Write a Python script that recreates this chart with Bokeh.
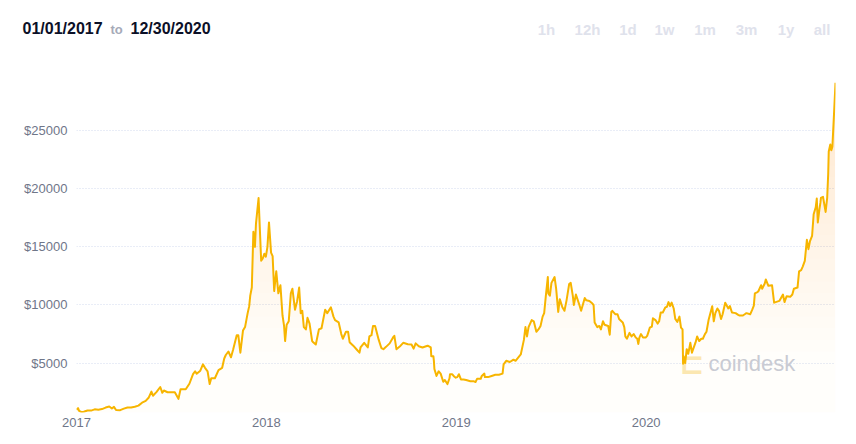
import numpy as np
import pandas as pd
from bokeh.plotting import figure
from bokeh.layouts import column
from bokeh.models import Range1d, FixedTicker, DatetimeTickFormatter, PrintfTickFormatter, Label
from bokeh.embed import file_html
from bokeh.resources import INLINE

# ---------------- data ----------------
dates_2017 = ["2017-01-01", "2017-01-04", "2017-01-06", "2017-01-11", "2017-01-15", "2017-01-22", "2017-01-29",
              "2017-02-05", "2017-02-12", "2017-02-19", "2017-02-26", "2017-03-05", "2017-03-10", "2017-03-14",
              "2017-03-18", "2017-03-26", "2017-04-02", "2017-04-09", "2017-04-16", "2017-04-23", "2017-04-30",
              "2017-05-07", "2017-05-14", "2017-05-20", "2017-05-25", "2017-05-28", "2017-06-04", "2017-06-11",
              "2017-06-15", "2017-06-18", "2017-06-25", "2017-07-02", "2017-07-09", "2017-07-16", "2017-07-20",
              "2017-07-30", "2017-08-06", "2017-08-13", "2017-08-17", "2017-08-20", "2017-08-27", "2017-09-01",
              "2017-09-05", "2017-09-10", "2017-09-14", "2017-09-17", "2017-09-24", "2017-10-01", "2017-10-08",
              "2017-10-12", "2017-10-15", "2017-10-20", "2017-10-25", "2017-10-29", "2017-11-05", "2017-11-08",
              "2017-11-12", "2017-11-17", "2017-11-21", "2017-11-26", "2017-11-29", "2017-12-01", "2017-12-04",
              "2017-12-07", "2017-12-10", "2017-12-12", "2017-12-17", "2017-12-22", "2017-12-25", "2017-12-28",
              "2017-12-31"]
prices_2017 = [998, 1130, 900, 780, 820, 925, 920,
               1030, 1000, 1050, 1180, 1270, 1100, 1240,
               970, 960, 1090, 1190, 1180, 1250, 1350,
               1600, 1750, 2050, 2550, 2200, 2530, 2950,
               2450, 2650, 2500, 2500, 2500, 1930, 2750,
               2750, 3230, 4050, 4300, 4090, 4350, 4900,
               4600, 4300, 3200, 3700, 3700, 4400, 4600,
               5400, 5700, 6000, 5500, 6150, 7400, 7400,
               5900, 7800, 8100, 9300, 9900, 10800, 11500,
               16300, 15000, 17000, 19200, 13800, 14000, 14400,
               14150]

dates_2018 = ["2018-01-03", "2018-01-06", "2018-01-10", "2018-01-13", "2018-01-16", "2018-01-20", "2018-01-24",
              "2018-01-28", "2018-02-01", "2018-02-04", "2018-02-06", "2018-02-09", "2018-02-13", "2018-02-17",
              "2018-02-20", "2018-02-25", "2018-03-01", "2018-03-05", "2018-03-08", "2018-03-11", "2018-03-14",
              "2018-03-18", "2018-03-21", "2018-03-25", "2018-03-30", "2018-04-01", "2018-04-06", "2018-04-12",
              "2018-04-17", "2018-04-24", "2018-04-28", "2018-05-05", "2018-05-10", "2018-05-13", "2018-05-20",
              "2018-05-25", "2018-05-28", "2018-06-03", "2018-06-07", "2018-06-10", "2018-06-17", "2018-06-24",
              "2018-06-29", "2018-07-01", "2018-07-08", "2018-07-15", "2018-07-18", "2018-07-22", "2018-07-25",
              "2018-07-29", "2018-08-05", "2018-08-10", "2018-08-14", "2018-08-19", "2018-08-26", "2018-09-02",
              "2018-09-04", "2018-09-08", "2018-09-16", "2018-09-21", "2018-09-30", "2018-10-07", "2018-10-11",
              "2018-10-15", "2018-10-21", "2018-10-28", "2018-11-04", "2018-11-07", "2018-11-13", "2018-11-14",
              "2018-11-18", "2018-11-19", "2018-11-20", "2018-11-24", "2018-11-28", "2018-12-02", "2018-12-07",
              "2018-12-10", "2018-12-15", "2018-12-19", "2018-12-20", "2018-12-24", "2018-12-28", "2018-12-31"]
prices_2018 = [15000, 17100, 14500, 14200, 11200, 12900, 11000,
               11700, 9100, 8200, 6900, 8300, 8600, 11000,
               11400, 9600, 10300, 11500, 9300, 9500, 8100,
               7900, 8900, 8400, 6900, 6800, 6600, 7900,
               8000, 9600, 9300, 9800, 9000, 8700, 8500,
               7500, 7100, 7700, 7700, 6800, 6500, 6150,
               5900, 6350, 6750, 6350, 7300, 7400, 8200,
               8200, 7000, 6300, 6200, 6400, 6700, 7250,
               7350, 6200, 6500, 6750, 6620, 6600, 6250,
               6700, 6450, 6340, 6450, 6500, 6350, 5600,
               5600, 5200, 4500, 3900, 4300, 4100, 3400,
               3550, 3200, 3700, 4050, 4050, 3850, 3750]

dates_2019 = ["2019-01-03", "2019-01-06", "2019-01-10", "2019-01-15", "2019-01-20", "2019-01-28", "2019-02-03",
              "2019-02-07", "2019-02-10", "2019-02-17", "2019-02-19", "2019-02-24", "2019-02-25", "2019-03-03",
              "2019-03-10", "2019-03-17", "2019-03-24", "2019-03-31", "2019-04-02", "2019-04-07", "2019-04-14",
              "2019-04-21", "2019-04-25", "2019-05-05", "2019-05-11", "2019-05-14", "2019-05-17", "2019-05-20",
              "2019-05-26", "2019-05-30", "2019-06-04", "2019-06-08", "2019-06-12", "2019-06-16", "2019-06-19",
              "2019-06-22", "2019-06-26", "2019-06-27", "2019-06-30", "2019-07-03", "2019-07-09", "2019-07-12",
              "2019-07-16", "2019-07-19", "2019-07-24", "2019-07-28", "2019-08-01", "2019-08-06", "2019-08-09",
              "2019-08-13", "2019-08-15", "2019-08-19", "2019-08-25", "2019-08-29", "2019-09-05", "2019-09-08",
              "2019-09-14", "2019-09-18", "2019-09-22", "2019-09-24", "2019-09-29", "2019-10-03", "2019-10-06",
              "2019-10-10", "2019-10-13", "2019-10-20", "2019-10-23", "2019-10-26", "2019-10-28", "2019-11-03",
              "2019-11-07", "2019-11-10", "2019-11-17", "2019-11-20", "2019-11-22", "2019-11-25", "2019-11-30",
              "2019-12-04", "2019-12-08", "2019-12-12", "2019-12-15", "2019-12-17", "2019-12-19", "2019-12-22",
              "2019-12-26", "2019-12-31"]
prices_2019 = [3800, 4050, 3600, 3600, 3550, 3450, 3450,
               3380, 3650, 3650, 3900, 4100, 3800, 3800,
               3900, 4000, 4000, 4100, 4900, 5200, 5100,
               5300, 5200, 5750, 7000, 8100, 7300, 8100,
               8700, 8600, 7700, 7900, 8200, 9000, 9300,
               10700, 12400, 11000, 10800, 11900, 12400, 11400,
               9400, 10500, 9800, 9500, 10400, 11800, 11900,
               10800, 10000, 10900, 10100, 9500, 10600, 10400,
               10350, 10200, 10000, 8500, 8100, 8200, 7900,
               8600, 8300, 8200, 7450, 9400, 9500, 9200,
               9200, 8800, 8500, 8100, 7300, 7100, 7600,
               7300, 7500, 7200, 7100, 6650, 7200, 7500,
               7200, 7200]

dates_2020 = ["2020-01-03", "2020-01-06", "2020-01-08", "2020-01-12", "2020-01-14", "2020-01-19", "2020-01-23",
              "2020-01-26", "2020-01-29", "2020-02-02", "2020-02-07", "2020-02-10", "2020-02-13", "2020-02-16",
              "2020-02-19", "2020-02-23", "2020-02-26", "2020-03-01", "2020-03-05", "2020-03-08", "2020-03-11",
              "2020-03-12", "2020-03-13", "2020-03-16", "2020-03-19", "2020-03-22", "2020-03-26", "2020-03-29",
              "2020-04-05", "2020-04-08", "2020-04-12", "2020-04-16", "2020-04-19", "2020-04-23", "2020-04-26",
              "2020-04-30", "2020-05-07", "2020-05-10", "2020-05-13", "2020-05-17", "2020-05-20", "2020-05-24",
              "2020-05-27", "2020-06-01", "2020-06-07", "2020-06-10", "2020-06-14", "2020-06-21", "2020-06-26",
              "2020-06-28", "2020-07-05", "2020-07-10", "2020-07-12", "2020-07-19", "2020-07-23", "2020-07-26",
              "2020-07-28", "2020-08-02", "2020-08-04", "2020-08-09", "2020-08-11", "2020-08-16", "2020-08-18",
              "2020-08-23", "2020-08-30", "2020-09-03", "2020-09-06", "2020-09-13", "2020-09-20", "2020-09-23",
              "2020-09-27", "2020-10-04", "2020-10-08", "2020-10-11", "2020-10-18", "2020-10-21", "2020-10-25",
              "2020-10-28", "2020-11-01", "2020-11-05", "2020-11-08", "2020-11-11", "2020-11-15", "2020-11-18",
              "2020-11-22", "2020-11-24", "2020-11-26", "2020-11-29", "2020-12-01", "2020-12-02", "2020-12-06",
              "2020-12-11", "2020-12-14", "2020-12-16", "2020-12-17", "2020-12-20", "2020-12-22", "2020-12-24",
              "2020-12-27", "2020-12-30"]
prices_2020 = [7350, 7750, 8050, 8150, 8850, 8700, 8400,
               8600, 9350, 9350, 9800, 9850, 10250, 9900,
               10200, 9700, 8800, 8550, 9000, 8050, 7900,
               4950, 5600, 5000, 6200, 5800, 6750, 5900,
               6780, 7300, 6900, 7100, 7100, 7500, 7700,
               8700, 9900, 8600, 9300, 9700, 9500, 8800,
               9200, 10200, 9700, 9900, 9350, 9300, 9150,
               9100, 9100, 9250, 9300, 9200, 9600, 9950,
               11000, 11100, 11200, 11700, 11400, 11850, 12200,
               11650, 11700, 10200, 10250, 10350, 10900, 10250,
               10750, 10700, 10900, 11400, 11500, 12900, 13000,
               13300, 13800, 15600, 14800, 15500, 15950, 17800,
               18400, 19150, 17100, 18200, 18800, 19200, 19300,
               18000, 19200, 21300, 23200, 23800, 23300, 23600,
               26300, 29100]

year_ticks = [2017, 2018, 2019, 2020]
price_ticks = [5000, 10000, 15000, 20000, 25000]
start_label = "01/01/2017"
end_label = "12/30/2020"
range_buttons = ["1h", "12h", "1d", "1w", "1m", "3m", "1y", "all"]
watermark = "coindesk"

dates = pd.to_datetime(dates_2017 + dates_2018 + dates_2019 + dates_2020)
prices = np.array(prices_2017 + prices_2018 + prices_2019 + prices_2020, dtype=float)

FONT = "Liberation Sans"
LINE = "#f7b500"

# ---------------- header strip (its own small figure) ----------------
hdr = figure(width=856, height=60, x_range=Range1d(0, 856), y_range=Range1d(60, 0), title=None,
             output_backend="svg", toolbar_location=None, min_border=0,
             x_axis_location=None, y_axis_location=None,
             background_fill_color="white", border_fill_color="white")
hdr.frame_align = False
hdr.outline_line_color = None
hdr.xgrid.visible = False
hdr.ygrid.visible = False


def hlab(x, y, text, size, color, align="left"):
    hdr.add_layout(Label(x=x, y=y, text=text, text_font=FONT, text_font_size=size,
                         text_font_style="bold", text_color=color, text_align=align,
                         text_baseline="middle"))


hlab(22, 27.5, start_label, "16px", "#0b1027")
hlab(110, 28.5, "to", "13px", "#a6aab8")
hlab(130, 27.5, end_label, "16px", "#0b1027")
button_x = [546, 587, 627.5, 664, 704.5, 746, 785.5, 821.5]
for bx, name in zip(button_x, range_buttons):
    hlab(bx, 28.5, name, "15px", "#dfe2ec", align="center")

# ---------------- main chart ----------------
p = figure(width=856, height=384, x_axis_type="datetime", title=None,
           x_range=Range1d(pd.Timestamp("2017-01-01"), pd.Timestamp("2020-12-30")),
           y_range=Range1d(757, 29300),
           output_backend="svg", toolbar_location=None,
           min_border_left=76, min_border_right=21, min_border_top=20, min_border_bottom=32,
           background_fill_color="white", border_fill_color="white")
p.frame_align = False
p.outline_line_color = None

# gradient-like fill under the line (denser toward the top)
base_y = np.full(len(prices), 757.0)
p.varea(x=dates, y1=base_y, y2=prices, fill_color=LINE, fill_alpha=0.015)
for level in np.arange(6000, 29300, 1000):
    lv = np.full(len(prices), float(level))
    p.varea(x=dates, y1=lv, y2=np.maximum(prices, lv), fill_color=LINE, fill_alpha=0.006)

p.line(x=dates, y=prices, line_color=LINE, line_width=2, line_join="round")

# axes
tick_ms = [pd.Timestamp(f"{y}-01-01").value / 1e6 for y in year_ticks]
p.xaxis.ticker = FixedTicker(ticks=tick_ms)
fmt = "%Y"
p.xaxis.formatter = DatetimeTickFormatter(microseconds=fmt, milliseconds=fmt, seconds=fmt, minsec=fmt,
                                          minutes=fmt, hourmin=fmt, hours=fmt, days=fmt, months=fmt, years=fmt)
p.yaxis.ticker = FixedTicker(ticks=price_ticks)
p.yaxis.formatter = PrintfTickFormatter(format="$%d")
for ax in (p.xaxis[0], p.yaxis[0]):
    ax.axis_line_color = None
    ax.major_tick_line_color = None
    ax.minor_tick_line_color = None
    ax.major_tick_out = 0
    ax.major_tick_in = 0
    ax.minor_tick_out = 0
    ax.major_label_text_font = FONT
    ax.major_label_text_font_size = "13px"
    ax.major_label_text_color = "#6f7689"
p.xaxis.major_label_standoff = 5
p.yaxis.major_label_standoff = 9

p.xgrid.grid_line_color = None
p.ygrid.ticker = FixedTicker(ticks=price_ticks)
p.ygrid.grid_line_color = "#d3daee"
p.ygrid.grid_line_dash = "1 2"
p.ygrid.grid_line_width = 1

# watermark (inside the plot frame, behind the line)
p.add_layout(Label(x=603, y=49, x_units="screen", y_units="screen", text="⊏",
                   text_font="DejaVu Sans", text_font_size="30px", text_font_style="bold",
                   text_color="#fbe8b4", text_baseline="alphabetic", level="underlay"))
p.add_layout(Label(x=632, y=49, x_units="screen", y_units="screen", text=watermark,
                   text_font=FONT, text_font_size="22px", text_color="#c9ccd7",
                   text_baseline="alphabetic", level="underlay"))

layout = column(hdr, p, spacing=0)
open("out.html", "w").write(file_html(layout, INLINE))
